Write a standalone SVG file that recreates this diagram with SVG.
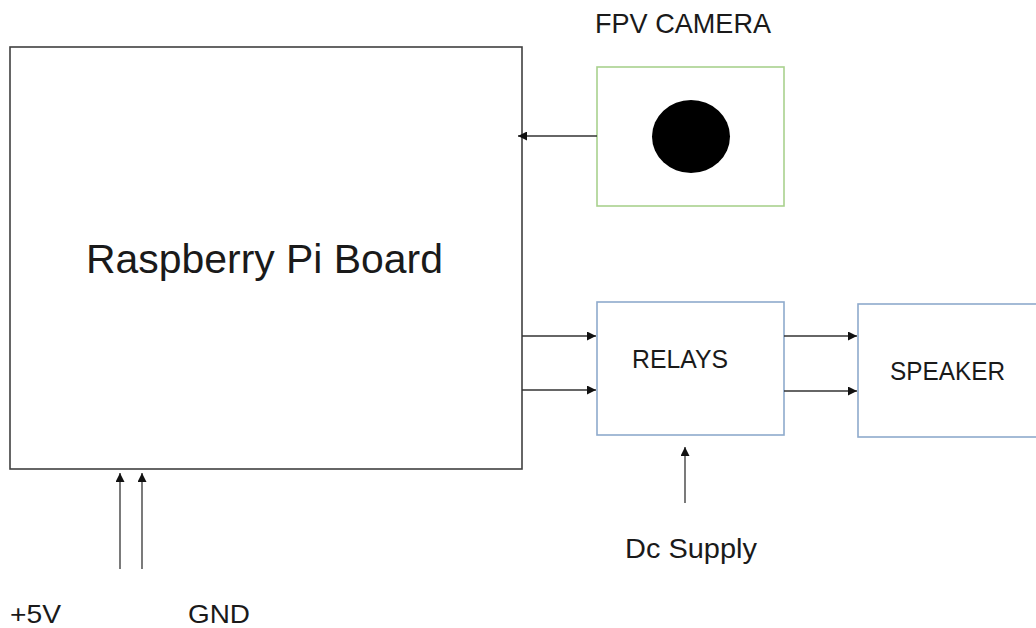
<svg xmlns="http://www.w3.org/2000/svg" width="1036" height="628" viewBox="0 0 1036 628">
<defs>
<style>
text{font-family:"Liberation Sans",Arial,sans-serif;fill:#1a1a1a}
.ln{stroke:#333;stroke-width:1.3;fill:none}
</style>
<marker id="ah" viewBox="0 0 10 10" refX="10" refY="5" markerWidth="10" markerHeight="9" markerUnits="userSpaceOnUse" orient="auto">
<path d="M0,0 L10,5 L0,10 z" fill="#111"/>
</marker>
</defs>
<rect width="1036" height="628" fill="#fff"/>
<g id="pi">
<rect x="10" y="47" width="512" height="422" fill="#fff" stroke="#404040" stroke-width="1.6"/>
<text x="86" y="273" font-size="41" textLength="357" lengthAdjust="spacingAndGlyphs">Raspberry Pi Board</text>
</g>
<g id="camera">
<text x="595" y="33" font-size="27.5" textLength="176" lengthAdjust="spacingAndGlyphs">FPV CAMERA</text>
<rect x="597" y="67" width="187" height="139" fill="#fff" stroke="#a9d18e" stroke-width="1.6"/>
<ellipse cx="691" cy="136.5" rx="39" ry="36.5" fill="#000"/>
</g>
<g id="relays">
<rect x="597" y="302" width="187" height="133" fill="#fff" stroke="#8eaacc" stroke-width="1.6"/>
<text x="632" y="368" font-size="25" textLength="96" lengthAdjust="spacingAndGlyphs">RELAYS</text>
</g>
<g id="speaker">
<rect x="858" y="304" width="190" height="133" fill="#fff" stroke="#8eaacc" stroke-width="1.6"/>
<text x="890" y="380" font-size="25" textLength="115" lengthAdjust="spacingAndGlyphs">SPEAKER</text>
</g>
<g id="labels">
<text x="625" y="558" font-size="27" textLength="132" lengthAdjust="spacingAndGlyphs">Dc Supply</text>
<text x="10" y="623" font-size="25" textLength="51" lengthAdjust="spacingAndGlyphs">+5V</text>
<text x="188" y="623" font-size="25" textLength="62" lengthAdjust="spacingAndGlyphs">GND</text>
</g>
<g id="connectors">
<line class="ln" x1="597" y1="136" x2="518" y2="136" marker-end="url(#ah)"/>
<line class="ln" x1="522" y1="336" x2="596" y2="336" marker-end="url(#ah)"/>
<line class="ln" x1="522" y1="390" x2="596" y2="390" marker-end="url(#ah)"/>
<line class="ln" x1="784" y1="336" x2="857" y2="336" marker-end="url(#ah)"/>
<line class="ln" x1="784" y1="391" x2="857" y2="391" marker-end="url(#ah)"/>
<line class="ln" x1="685" y1="503" x2="685" y2="447" marker-end="url(#ah)"/>
<line class="ln" x1="120" y1="569" x2="120" y2="473" marker-end="url(#ah)"/>
<line class="ln" x1="142" y1="569" x2="142" y2="473" marker-end="url(#ah)"/>
</g>
</svg>
